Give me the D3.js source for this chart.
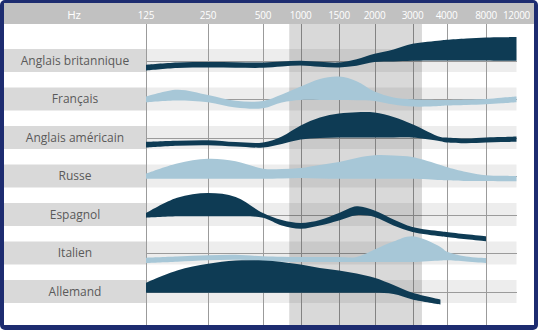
<!DOCTYPE html>
<html>
<head>
<meta charset="utf-8">
<script src="https://cdn.jsdelivr.net/npm/d3@7"></script>
<style>
  html, body { margin: 0; padding: 0; background: #fff; }
  svg { display: block; }
  .lbl { font-family: "Open Sans", "Noto Sans", sans-serif; font-size: 12px; fill: #5a5a5a; }
  .hdr { font-family: "Open Sans", "Noto Sans", sans-serif; font-size: 10px; fill: #ffffff; letter-spacing: -0.3px; }
</style>
</head>
<body>
<svg id="chart" width="538" height="330"></svg>
<script>
// Languages, top to bottom
const languages = ["Anglais britannique", "Français", "Anglais américain", "Russe", "Espagnol", "Italien", "Allemand"];
// Frequency ticks shown in the header (Hz)
const tickHz = [125, 250, 500, 1000, 1500, 2000, 3000, 4000, 8000, 12000];
const tickLabels = ["125", "250", "500", "1000", "1500", "2000", "3000", "4000", "8000", "12000"];
// Frequencies at which each band is sampled (Hz)
const sampleHz = [125, 177, 250, 354, 500, 707, 1000, 1225, 1500, 1730, 2000, 2450, 3000, 3800, 4000, 5660, 8000, 9800, 12000];
// Upper edge of each language band (level above the row baseline)
const upperEdge = [
  [-4.3, -2, -1.6, -1.8, -2, -1, -0.3, -1.3, -2, 1.2, 6.7, 11, 16.7, 20, 20.7, 22, 23, 23.3, 23.4],
  [2.4, 9.3, 4, -1.8, -2, 4.5, 12.4, 20, 22.4, 17.8, 7.4, 1.5, -0.3, -1, -1, -0.5, 0, 1.2, 2.4],
  [-4.3, -3.2, -2.7, -4.5, -5, 1, 12, 20, 24, 25.3, 25, 20.5, 13.3, 0.5, 0, -1, 0, 0.5, 1],
  [2.3, 12.5, 17.3, 14.8, 7.3, 7, 8, 11, 14, 18, 20.7, 20.5, 19, 11, 9, 4, 0.7, 0.2, 0],
  [1.5, 16.8, 21.5, 17.5, 1.5, -5.5, -8.5, -5.5, 1.5, 8.2, 4, -5, -12.5, -16.8, -17.5, -19.8, -21.8, null, null],
  [-4.7, -3.5, -2.3, -1.7, -3.3, -3.8, -4, -4, -4, -4, 3.5, 11.5, 16.7, 6, 1.5, -3.5, -5, null, null],
  [8.7, 21, 27.7, 31, 31, 29.5, 27, 23.5, 21, 18, 13.7, 6.5, -1.3, -8, null, null, null, null, null]
];
// Lower edge of each language band
const lowerEdge = [
  [-10, -7.5, -7, -7.2, -7.3, -6, -5, -6.3, -7, -5.3, -1.6, -1, -0.3, 0, 0, 0, 0, -0.3, -0.3],
  [-3.3, -1.5, -3.3, -8.6, -9.3, -3.5, -1, -1, -1, -1.3, -2, -5.5, -7.6, -7, -6.6, -6, -5.3, -4.3, -3.3],
  [-10, -8.2, -7.7, -9, -10, -6.5, -2, -0.5, 0, 0, 0, 0, 0, -3.8, -5, -5.7, -5, -4.6, -4.3],
  [-2.7, -2.7, -2.7, -2.7, -2.7, -2.5, -2, -2.5, -2.7, -2.7, -2.7, -2.7, -2.7, -4, -4.3, -5, -5, -5.2, -5.3],
  [-3.2, -1.8, -1.8, -1.8, -3.2, -11, -14.2, -11, -6, -0.8, -2.5, -11, -17.5, -21.8, -22.5, -24.8, -26.8, null, null],
  [-10, -8.7, -7.3, -6.7, -8, -8.7, -9, -9, -9, -9, -9, -9, -9, -7.5, -7.3, -8.5, -10, null, null],
  [-1.3, -1.3, -1.3, -1.3, -1.3, -1.3, -1.3, -1.3, -1.3, -1.3, -1.3, -2.5, -8, -13, null, null, null, null, null]
];
// Highlighted speech range (Hz)
const focusRange = [810, 3250];

// ---- styling & layout ----
const W = 538, H = 330;
const bandColor = ["#0e3b54", "#a7c7d7", "#0e3b54", "#a7c7d7", "#0e3b54", "#a7c7d7", "#0e3b54"];
const frame = { x: 4, y: 3, w: 530, h: 322 };
const headerBottom = 24;
const labelRight = 146;
const plotRight = 516.5;
const tickX = [146, 208, 263, 300.7, 339, 374.5, 412.5, 446.5, 486, 516.5];
const rowBox = 23;

const svg = d3.select("#chart");

// piecewise log scale across the header ticks
const x = d3.scaleLog().domain(tickHz).range(tickX);
const row = d3.scalePoint().domain(languages).range([60.5, 291.5]);
const lev = d3.scaleLinear().domain([-30, 30]).range([30, -30]);

// frame
svg.append("rect").attr("width", W).attr("height", H).attr("rx", 5).attr("fill", "#1d2c70");
svg.append("rect").attr("x", frame.x).attr("y", frame.y).attr("width", frame.w).attr("height", frame.h).attr("fill", "#ffffff");
svg.append("rect").attr("x", frame.x).attr("y", frame.y).attr("width", frame.w).attr("height", headerBottom - frame.y).attr("fill", "#c1c1c1");

// row stripes
const rows = svg.append("g");
rows.selectAll("rect.box").data(languages).join("rect")
  .attr("class", "box")
  .attr("x", frame.x).attr("width", labelRight - frame.x)
  .attr("y", d => row(d) - rowBox / 2).attr("height", rowBox)
  .attr("fill", "#d9d9d9");
rows.selectAll("rect.stripe").data(languages).join("rect")
  .attr("class", "stripe")
  .attr("x", labelRight).attr("width", plotRight - labelRight)
  .attr("y", d => row(d) - rowBox / 2).attr("height", rowBox)
  .attr("fill", "#ededed");

// grid
const grid = svg.append("g").attr("stroke", "#9b9b9b").attr("stroke-width", 1).attr("shape-rendering", "crispEdges");
grid.selectAll("line.v").data(tickHz.slice(0, -1)).join("line")
  .attr("class", "v")
  .attr("x1", d => Math.round(x(d)) + 0.5).attr("x2", d => Math.round(x(d)) + 0.5)
  .attr("y1", headerBottom).attr("y2", frame.y + frame.h);
grid.selectAll("line.h").data(languages).join("line")
  .attr("class", "h")
  .attr("x1", labelRight).attr("x2", plotRight)
  .attr("y1", d => Math.round(row(d)) + 0.5).attr("y2", d => Math.round(row(d)) + 0.5);

// highlighted frequency range
svg.append("rect")
  .attr("x", x(focusRange[0])).attr("width", x(focusRange[1]) - x(focusRange[0]))
  .attr("y", headerBottom).attr("height", frame.y + frame.h - headerBottom)
  .attr("fill", "#000").attr("fill-opacity", 0.15);

// header labels
svg.append("text").attr("class", "hdr").attr("x", 74).attr("y", 18.5)
  .attr("text-anchor", "middle").style("font-size", "11.5px").text("Hz");
svg.selectAll("text.tick").data(tickHz).join("text")
  .attr("class", "hdr tick")
  .attr("x", d => x(d)).attr("y", 18.5)
  .attr("text-anchor", "middle")
  .text((d, i) => tickLabels[i]);

// language labels
svg.selectAll("text.lbl").data(languages).join("text")
  .attr("class", "lbl")
  .attr("x", (frame.x + labelRight) / 2).attr("y", d => row(d) + 4)
  .attr("text-anchor", "middle")
  .text(d => d);

// frequency bands
const area = d3.area()
  .defined(d => d.hi != null && d.lo != null)
  .x(d => x(d.hz))
  .y0(d => d.base + lev(d.lo))
  .y1(d => d.base + lev(d.hi))
  .curve(d3.curveCatmullRom.alpha(0.5));

svg.append("g").selectAll("path").data(languages).join("path")
  .attr("d", (name, i) => area(sampleHz.map((hz, j) => ({
    hz, base: row(name), hi: upperEdge[i][j], lo: lowerEdge[i][j]
  }))))
  .attr("fill", (d, i) => bandColor[i]);
</script>
</body>
</html>
